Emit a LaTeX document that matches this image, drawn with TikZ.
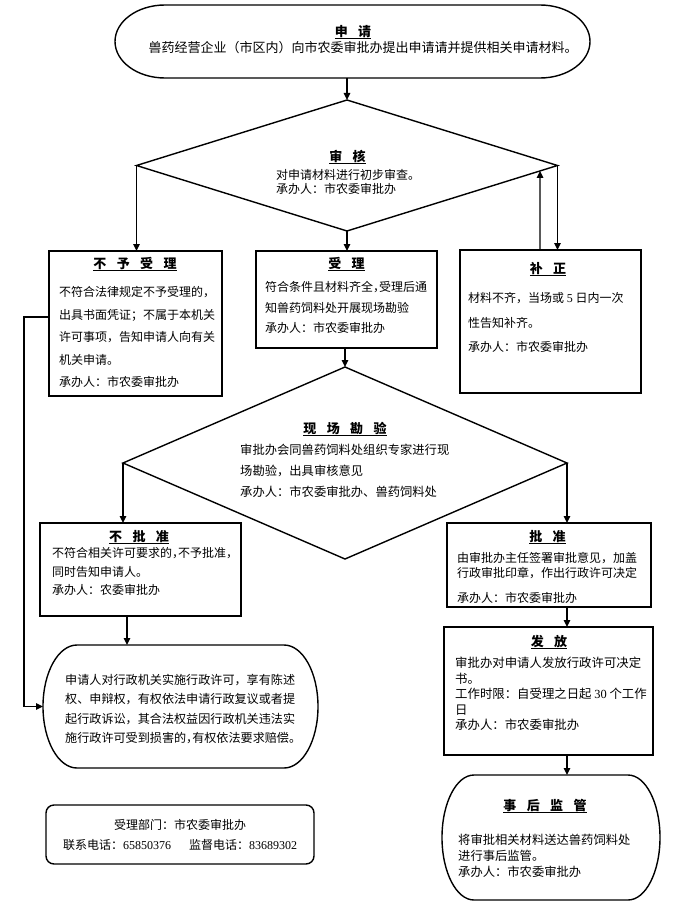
\documentclass[tikz,border=0pt]{standalone}
\usepackage{fontspec}
\setmainfont{Noto Sans CJK SC}
\newfontfamily\tnr{Liberation Serif}
\usetikzlibrary{shapes.geometric,arrows.meta,calc}
\newcommand\tgap{\hspace{0.8em}}
\newcommand\hc[1]{\makebox[0.5em][l]{#1}}
\newsavebox\ttlbox
\newcommand\ttl[1]{\sbox\ttlbox{\textbf{#1}}\rlap{\usebox\ttlbox}\rule[-2.6pt]{\wd\ttlbox}{1.1pt}}
\newcommand\stadiumpath[2]{%
  \draw[ln] ([xshift=#2]#1.north west) -- ([xshift=-#2]#1.north east)
   .. controls ($([xshift=-#2]#1.north east)!0.5523!(#1.north east)$) and ($(#1.east)!0.5523!(#1.north east)$) .. (#1.east)
   .. controls ($(#1.east)!0.5523!(#1.south east)$) and ($([xshift=-#2]#1.south east)!0.5523!(#1.south east)$) .. ([xshift=-#2]#1.south east)
   -- ([xshift=#2]#1.south west)
   .. controls ($([xshift=#2]#1.south west)!0.5523!(#1.south west)$) and ($(#1.west)!0.5523!(#1.south west)$) .. (#1.west)
   .. controls ($(#1.west)!0.5523!(#1.north west)$) and ($([xshift=#2]#1.north west)!0.5523!(#1.north west)$) .. cycle;}
\begin{document}
\begin{tikzpicture}[x=1pt,y=-1pt,
  ln/.style={line width=1.4pt},
  box/.style={draw, line width=1.4pt, inner sep=0, outer sep=0},
  shell/.style={inner sep=0, outer sep=0},
  dia/.style={diamond, draw, line width=1.4pt, inner sep=0, outer sep=0},
  arr/.style={line width=1.4pt, -{Triangle[length=7pt,width=6.5pt]}},
  tt/.style={inner sep=0, font=\fontsize{13}{13}\selectfont},
  bd/.style={anchor=west, align=left, inner sep=0}]
\useasboundingbox[fill=white] (0,0) rectangle (698,915);

% top terminator
\node[shell, minimum width=475pt, minimum height=73pt] (app) at (352.5,41.5) {};
\stadiumpath{app}{50pt}
\node[tt] (appT) at (353,32) {\ttl{申\tgap 请}};
\node[inner sep=0, font=\fontsize{13}{13}\selectfont] (appB) at (363,48) {兽药经营企业（市区内）向市农委审批办提出申请请并提供相关申请材料。};

% diamond 1
\node[dia, minimum width=421pt, minimum height=131pt] (d1) at (347,165.5) {};
\node[tt] (d1T) at (347.5,157) {\ttl{审\tgap 核}};
\node[bd, font=\fontsize{12}{14.5}\selectfont] (d1B) at (276,182) {对申请材料进行初步审查。\\承办人：市农委审批办};

% row of boxes
\node[box, minimum width=173pt, minimum height=145pt] (b1) at (135.5,323.5) {};
\node[tt] (b1T) at (135,264) {\ttl{不\tgap 予\tgap 受\tgap 理}};
\node[bd, font=\fontsize{12}{22.5}\selectfont] (b1B) at (59,337) {不符合法律规定不予受理的，\\出具书面凭证；不属于本机关\\许可事项，告知申请人向有关\\机关申请。\\承办人：市农委审批办};

\node[box, minimum width=181pt, minimum height=97pt] (b2) at (346.5,299.5) {};
\node[tt] (b2T) at (346.5,264) {\ttl{受\tgap 理}};
\node[bd, font=\fontsize{12}{20.5}\selectfont] (b2B) at (265,307.5) {符合条件且材料齐全\hc{，}受理后通\\知兽药饲料处开展现场勘验\\承办人：市农委审批办};

\node[box, minimum width=181pt, minimum height=143pt] (b3) at (550.5,321.5) {};
\node[tt] (b3T) at (548,269) {\ttl{补\tgap 正}};
\node[bd, font=\fontsize{12}{24.5}\selectfont] (b3B) at (468,322.5) {材料不齐，当场或 {\tnr 5} 日内一次\\性告知补齐。\\承办人：市农委审批办};

% diamond 2
\node[dia, minimum width=444pt, minimum height=192pt] (d2) at (345,463) {};
\node[tt] (d2T) at (345,429) {\ttl{现\tgap 场\tgap 勘\tgap 验}};
\node[bd, font=\fontsize{12.3}{21}\selectfont] (d2B) at (240,471) {审批办会同兽药饲料处组织专家进行现\\场勘验，出具审核意见\\承办人：市农委审批办、兽药饲料处};

% second row
\node[box, minimum width=201pt, minimum height=93pt] (b4) at (140.5,569.5) {};
\node[tt] (b4T) at (139,537) {\ttl{不\tgap 批\tgap 准}};
\node[bd, font=\fontsize{12}{18.5}\selectfont] (b4B) at (52,571.5) {不符合相关许可要求的\hc{，}不予批准\hc{，}\\同时告知申请人。\\承办人：农委审批办};

\node[box, minimum width=204pt, minimum height=84pt] (b5) at (549,565) {};
\node[tt] (b5T) at (547.5,537) {\ttl{批\tgap 准}};
\node[bd, font=\fontsize{12}{15}\selectfont] (b5B) at (457,578) {由审批办主任签署审批意见，加盖\\行政审批印章，作出行政许可决定\\[10pt]承办人：市农委审批办};

\node[box, minimum width=209pt, minimum height=128pt] (b6) at (548.5,691) {};
\node[tt] (b6T) at (549,642) {\ttl{发\tgap 放}};
\node[bd, font=\fontsize{12.4}{15.5}\selectfont] (b6B) at (455,694) {审批办对申请人发放行政许可决定\\书。\\工作时限：自受理之日起 {\tnr 30} 个工作\\日\\承办人：市农委审批办};

\node[shell, minimum width=218pt, minimum height=125pt] (b7) at (551,837.5) {};
\stadiumpath{b7}{32pt}
\node[tt] (b7T) at (545,806) {\ttl{事\tgap 后\tgap 监\tgap 管}};
\node[bd, font=\fontsize{12.3}{16}\selectfont] (b7B) at (458,856) {将审批相关材料送达兽药饲料处\\进行事后监管。\\承办人：市农委审批办};

\node[shell, minimum width=275pt, minimum height=123pt] (b8) at (180.5,706.5) {};
\stadiumpath{b8}{34pt}
\node[bd, font=\fontsize{12.1}{19.3}\selectfont] (b8B) at (65,709) {申请人对行政机关实施行政许可，享有陈述\\权、申辩权，有权依法申请行政复议或者提\\起行政诉讼，其合法权益因行政机关违法实\\施行政许可受到损害的\hc{，}有权依法要求赔偿\hc{。}};

\node[box, rounded corners=8pt, minimum width=268pt, minimum height=59pt] (b9) at (180,834.5) {};
\node[inner sep=0, font=\fontsize{12}{12}\selectfont] (b9a) at (180,825) {受理部门：市农委审批办};
\node[inner sep=0, font=\fontsize{12}{12}\selectfont] (b9b) at (180,845) {联系电话：{\tnr 65850376}\hspace{18pt}监督电话：{\tnr 83689302}};

% connectors
\draw[arr] (d1.north |- app.south) -- (d1.north);
\draw[arr] (d1.west) -- (d1.west |- b1.north);
\draw[arr] (d1.south) -- (d1.south |- b2.north);
\draw[arr] (d1.east) -- (d1.east |- b3.north);
\draw[arr] ([xshift=-10.5pt]b3.north) -- ($(d1.south)!0.917!(d1.east)$);
\draw[arr] (d2.north |- b2.south) -- (d2.north);
\draw[arr] (d2.west) -- (d2.west |- b4.north);
\draw[arr] (d2.east) -- (d2.east |- b5.north);
\draw[arr] (d2.east |- b5.south) -- (d2.east |- b6.north);
\draw[arr] (d2.east |- b6.south) -- (d2.east |- b7.north);
\draw[arr] ([xshift=-13.5pt]b4.south) -- ([xshift=-13.5pt]b4.south |- b8.north);
\draw[arr] ([yshift=6.5pt]b1.west) -- ++(-25,0) |- (b8.west);
\end{tikzpicture}
\end{document}
